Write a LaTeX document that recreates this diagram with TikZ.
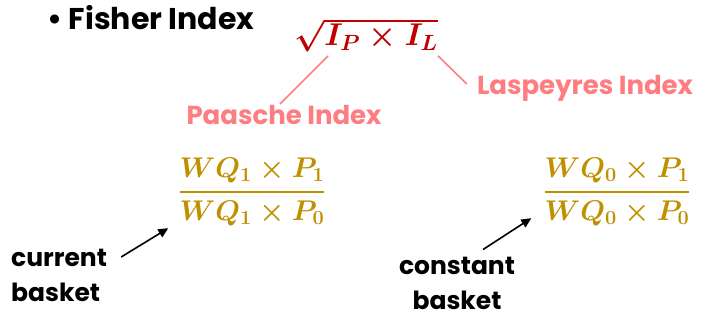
\RequirePackage{fix-cm}
\documentclass[tikz,border=0pt]{standalone}
\usepackage{amsmath}
\usepackage{fontspec}
\setmainfont{Poppins}
\usepackage{tikz}
\usetikzlibrary{arrows.meta, positioning, calc}
\definecolor{fishred}{RGB}{192,0,0}
\definecolor{fishpink}{RGB}{255,124,128}
\definecolor{fishgold}{RGB}{191,144,0}
\tikzset{
  %% ---- text ----
  heading/.style  = {font=\fontsize{30}{32}\selectfont\bfseries, anchor=west},
  idxlabel/.style = {font=\fontsize{26}{30}\selectfont\bfseries,
                     text=fishpink, inner sep=1pt},
  ratio/.style    = {font=\fontsize{28.5}{34}\selectfont\boldmath, text=fishgold,
                     inner sep=0pt},
  basket/.style   = {font=\fontsize{25}{35}\selectfont\bfseries,
                     align=#1, inner sep=1pt},
  basket/.default = left,
  %% ---- lines ----
  pinkline/.style = {draw=fishpink, line width=1.6pt},
  arrow/.style    = {-{Triangle[length=10pt,width=9pt]}, line width=1.6pt},
}

\begin{document}
\begin{tikzpicture}[x=1pt, y=-1pt]

  \useasboundingbox (0,0) rectangle (703,320);

  %% Title and formula
  \node[heading] (title) at (44,18) {\textbullet\ Fisher Index};

  \node[font=\fontsize{31.5}{34}\selectfont\boldmath, text=fishred, inner sep=0pt]
    (fisher) at (366,35) {$\sqrt{I_P\times I_L}$};

  \node[idxlabel] (paasche) at (284,115) {Paasche Index};
  \node[idxlabel] (laspeyres) at (585,88) {Laspeyres Index};

  \draw[pinkline] ([xshift=-38pt,yshift=-4pt]fisher.south) -- ([xshift=-4pt]paasche.north);
  \draw[pinkline] ([xshift=72pt,yshift=-4pt]fisher.south) -- ([xshift=-9pt,yshift=4pt]laspeyres.west);

  %% Price ratios
  \node[ratio] (curfrac) at (252,192)
    {$\genfrac{}{}{2.2pt}{0}{WQ_1\times P_1}{WQ_1\times P_0}$};
  \node[ratio] (confrac) at (617,192)
    {$\genfrac{}{}{2.2pt}{0}{WQ_0\times P_1}{WQ_0\times P_0}$};

  %% Baskets
  \node[basket, anchor=north west] (current) at (10,248) {current\\basket};
  \node[basket=center] (constant) at (457,283) {constant\\basket};

  \draw[arrow] ([xshift=13pt,yshift=-9pt]current.north east) -- ([xshift=-10pt,yshift=-2pt]curfrac.south west);
  \draw[arrow] ([xshift=26pt,yshift=6pt]constant.north) -- ([xshift=-12pt,yshift=8pt]confrac.south west);

\end{tikzpicture}
\end{document}
